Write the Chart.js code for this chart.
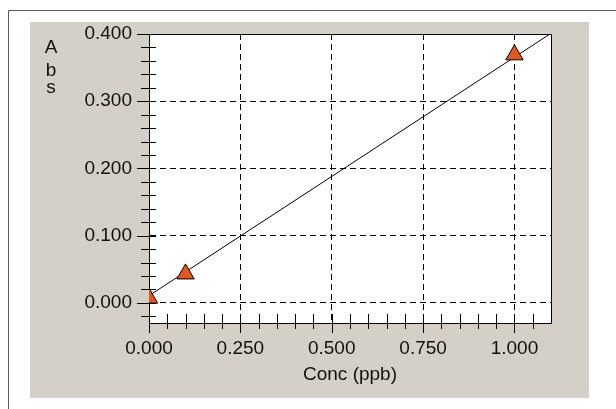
<!DOCTYPE html>
<html>
<head>
<meta charset="utf-8">
<script src="https://cdn.jsdelivr.net/npm/chart.js@4"></script>
<style>
  html, body { margin: 0; padding: 0; background: #fff; }
  #wrap { width: 616px; height: 409px; }
</style>
</head>
<body>
<div id="wrap"><canvas id="myChart" width="616" height="409"></canvas></div>
<script>
// calibration standards
const concPpb = [0.0, 0.1, 1.0];
const absValues = [0.007, 0.043, 0.369];

// fitted line, read at both ends of the x range
const fitX = [0.0, 1.1];
const fitY = [0.0106, 0.401];

const xTicks = [0.0, 0.25, 0.5, 0.75, 1.0];
const yTicks = [0.0, 0.1, 0.2, 0.3, 0.4];
const yAxisLetters = ['A', 'b', 's'];

const FONT = '"Liberation Sans", Arial, sans-serif';

// background, frame, panel and plot box
const frame = {
    id: 'frame',
    beforeDraw(chart) {
        const ctx = chart.ctx;
        const a = chart.chartArea;
        ctx.save();
        ctx.fillStyle = '#fff';
        ctx.fillRect(0, 0, chart.width, chart.height);
        ctx.strokeStyle = '#5a5a5a';
        ctx.lineWidth = 1;
        ctx.beginPath();
        ctx.moveTo(8.5, 409);
        ctx.lineTo(8.5, 10.5);
        ctx.lineTo(616, 10.5);
        ctx.stroke();
        ctx.fillStyle = '#d4d0c8';
        ctx.fillRect(30, 22, 559, 376);
        ctx.fillStyle = '#fff';
        ctx.fillRect(a.left, a.top, a.right - a.left, a.bottom - a.top);
        ctx.restore();
    },
    afterDraw(chart) {
        const ctx = chart.ctx;
        const a = chart.chartArea;
        const xs = chart.scales.x;
        const ys = chart.scales.y;
        ctx.save();
        ctx.strokeStyle = '#000';
        ctx.lineWidth = 1;
        ctx.beginPath();
        // top and right border
        ctx.moveTo(a.left, Math.round(a.top) + 0.5);
        ctx.lineTo(Math.round(a.right) + 0.5, Math.round(a.top) + 0.5);
        ctx.lineTo(Math.round(a.right) + 0.5, a.bottom);
        // y ticks, every 0.02
        for (let i = -1; i <= 20; i++) {
            const v = i * 0.02;
            const py = Math.round(ys.getPixelForValue(v)) + 0.5;
            const major = i % 5 === 0;
            ctx.moveTo(a.left - (major ? 12 : 8), py);
            ctx.lineTo(a.left + 7, py);
        }
        // x ticks, every 0.05
        for (let i = 0; i <= 21; i++) {
            const v = i * 0.05;
            const px = Math.round(xs.getPixelForValue(v)) + 0.5;
            const major = i % 5 === 0;
            ctx.moveTo(px, a.bottom - 9);
            ctx.lineTo(px, a.bottom + (major ? 10 : 6));
        }
        ctx.stroke();

        // stacked y axis name
        ctx.fillStyle = '#111';
        ctx.font = '19px ' + FONT;
        ctx.textAlign = 'center';
        ctx.textBaseline = 'alphabetic';
        const baselines = [53, 76, 93];
        yAxisLetters.forEach((ch, i) => ctx.fillText(ch, 51, baselines[i]));
        ctx.restore();
    }
};

function init() {
    const ctx = document.getElementById('myChart').getContext('2d');
    new Chart(ctx, {
        type: 'scatter',
        data: {
            datasets: [{
                label: 'Standards',
                data: concPpb.map((x, i) => ({x: x, y: absValues[i]})),
                pointStyle: 'triangle',
                pointRadius: 10,
                pointHoverRadius: 10,
                backgroundColor: '#e2561f',
                borderColor: '#000',
                borderWidth: 1,
                clip: 0,
                order: 0
            }, {
                label: 'Fit',
                type: 'line',
                data: fitX.map((x, i) => ({x: x, y: fitY[i]})),
                borderColor: '#000',
                borderWidth: 1,
                pointRadius: 0,
                fill: false,
                clip: 0,
                order: 1
            }]
        },
        options: {
            responsive: false,
            animation: false,
            events: [],
            layout: { padding: { left: 0, top: 34, right: 65, bottom: 23 } },
            plugins: {
                legend: { display: false },
                tooltip: { enabled: false }
            },
            scales: {
                x: {
                    type: 'linear',
                    min: 0,
                    max: 1.1,
                    afterBuildTicks: s => { s.ticks = xTicks.map(v => ({value: v})); },
                    afterFit: s => { s.height = 63; },
                    grid: { color: '#000', lineWidth: 1, drawTicks: false },
                    border: { display: true, color: '#000', width: 1, dash: [6, 4] },
                    ticks: {
                        padding: 14,
                        color: '#111',
                        font: { family: FONT, size: 19 },
                        callback: v => Number(v).toFixed(3)
                    },
                    title: {
                        display: true,
                        text: 'Conc (ppb)',
                        color: '#111',
                        padding: { top: 0, bottom: 0 },
                        font: { family: FONT, size: 19 }
                    }
                },
                y: {
                    type: 'linear',
                    min: -0.03,
                    max: 0.4,
                    afterBuildTicks: s => { s.ticks = yTicks.map(v => ({value: v})); },
                    afterFit: s => { s.width = 149; },
                    grid: { color: '#000', lineWidth: 1, drawTicks: false },
                    border: { display: true, color: '#000', width: 1, dash: [6, 4] },
                    ticks: {
                        padding: 17,
                        color: '#111',
                        font: { family: FONT, size: 19 },
                        callback: v => Number(v).toFixed(3)
                    }
                }
            }
        },
        plugins: [frame]
    });
}

window.addEventListener('DOMContentLoaded', init);
</script>
</body>
</html>
